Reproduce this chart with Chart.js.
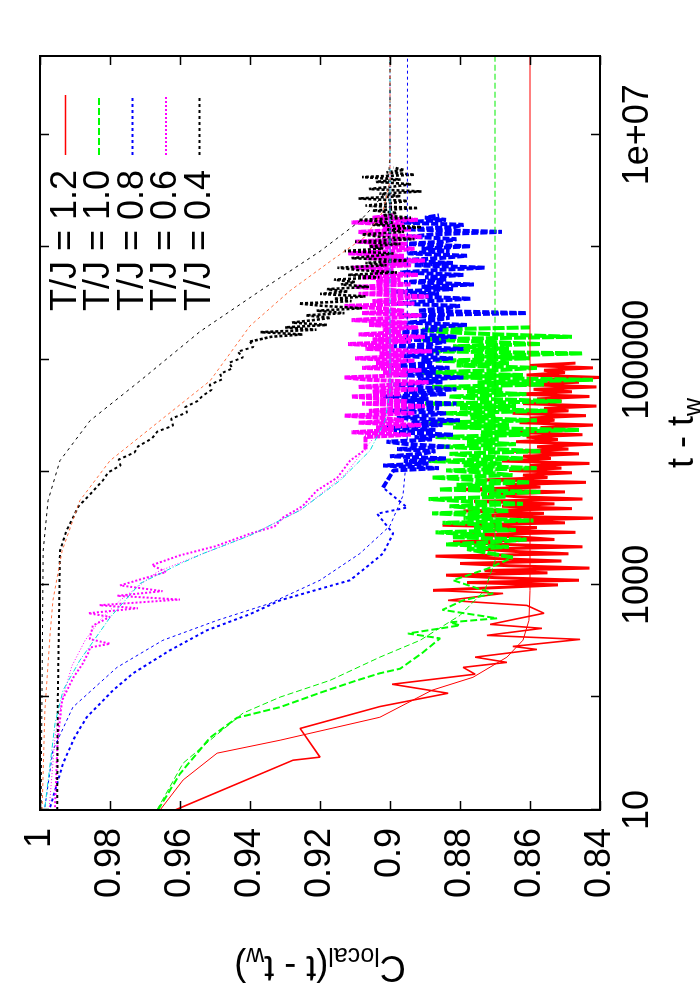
<!DOCTYPE html>
<html>
<head>
<meta charset="utf-8">
<script src="https://cdn.jsdelivr.net/npm/chart.js@4.4.0/dist/chart.umd.min.js"></script>
<style>
html, body { margin: 0; padding: 0; background: #fff; overflow: hidden; }
/* the plot is drawn landscape and turned a quarter turn to the left */
#wrap { position: absolute; left: 0; top: 0; width: 1000px; height: 700px;
  transform-origin: 0 0; transform: translate(0px, 1000px) rotate(-90deg); }
</style>
</head>
<body>
<div id="wrap"><canvas id="corr" width="1000" height="700"></canvas></div>
<script>
const fontFamily = '"Liberation Sans", Arial, Helvetica, sans-serif';

//axis ticks
const xTicks = [10, 100, 1000, 10000, 100000, 1000000, 10000000];
const xTickLabels = ['10', '', '1000', '', '100000', '', '1e+07'];
const yTicks = [0.84, 0.86, 0.88, 0.9, 0.92, 0.94, 0.96, 0.98, 1];
const yTickLabels = ['0.84', '0.86', '0.88', '0.9', '0.92', '0.94', '0.96', '0.98', '1'];

const seriesNames = ['T/J = 1.2', 'T/J = 1.0', 'T/J = 0.8', 'T/J = 0.6', 'T/J = 0.4'];

//sampling times of the long-time part (shared by all runs)
const tLate = [1000, 1050, 1100, 1160, 1220, 1280, 1340, 1410, 1480, 1550, 1630, 1710, 1800, 1890, 1980,
  2080, 2180, 2290, 2410, 2530, 2650, 2790, 2930, 3070, 3230, 3390, 3560, 3730, 3920, 4120, 4320, 4540, 4760,
  5000, 5250, 5520, 5790, 6080, 6390, 6700, 7040, 7390, 7760, 8150, 8560, 8990, 9440, 9910,
  10400, 10900, 11500, 12000, 12600, 13300, 13900, 14600, 15400, 16100, 16900, 17800, 18700, 19600,
  20600, 21600, 22700, 23800, 25000, 26300, 27600, 29000, 30400, 31900, 33500, 35200, 37000, 38800, 40800, 42800,
  44900, 47200, 49500,
  52000, 54600, 57400, 60200, 63200, 66400, 69700, 73200, 76900, 80700, 84800, 89000, 93400, 98100,
  103000, 108000, 114000, 119000, 125000, 132000, 138000, 145000, 152000, 160000, 168000, 176000, 185000, 194000,
  204000, 214000, 225000, 236000, 248000, 260000, 273000, 287000, 301000, 316000, 332000, 349000, 366000, 385000,
  404000, 424000, 445000, 467000, 491000,
  515000, 541000, 568000, 597000, 627000, 658000, 691000, 725000, 762000, 800000, 840000, 882000, 926000, 972000,
  1020000, 1070000, 1120000, 1180000, 1240000, 1300000, 1370000, 1440000, 1510000, 1580000, 1660000, 1750000,
  1830000, 1920000,
  2020000, 2120000, 2230000, 2340000, 2460000, 2580000, 2710000, 2840000, 2990000, 3130000, 3290000, 3460000,
  3630000, 3810000,
  4000000, 4200000, 4410000, 4630000, 4860000, 5100000];

//T/J = 1.2 measured
const tRed = [10, 27.7, 29.5, 53, 83, 109, 131, 161, 185, 205, 228, 267, 284, 328, 356, 411, 446, 560, 657, 729, 840, 894];
const cRed = [0.9614, 0.9277, 0.92, 0.9257, 0.9029, 0.8834, 0.8994, 0.8757, 0.8791, 0.8666, 0.8757, 0.858, 0.8649,
  0.8457, 0.8723, 0.8566, 0.8714, 0.856, 0.8609, 0.8834, 0.8677, 0.8877];
const cRedLate = [0.852, 0.878, 0.846, 0.870, 0.884, 0.855, 0.873, 0.843, 0.866, 0.880, 0.851, 0.869, 0.887, 0.849, 0.864,
  0.874, 0.845, 0.868, 0.882, 0.853, 0.862, 0.877, 0.847, 0.871, 0.858, 0.885, 0.850, 0.866, 0.842, 0.874, 0.856, 0.879, 0.848,
  0.868, 0.853, 0.876, 0.845, 0.864, 0.872, 0.850, 0.881, 0.857, 0.867, 0.844, 0.873, 0.855, 0.862, 0.848,
  0.866, 0.851, 0.860, 0.843, 0.868, 0.854, 0.862, 0.846, 0.865, 0.849, 0.858, 0.842, 0.864, 0.852,
  0.861, 0.845, 0.866, 0.850, 0.857, 0.842, 0.863, 0.853, 0.860, 0.844, 0.865, 0.849, 0.856, 0.841, 0.862, 0.851, 0.858,
  0.843, 0.864,
  0.848, 0.859, 0.841, 0.862, 0.846, 0.857, 0.840, 0.861, 0.850, 0.856, 0.842, 0.860, 0.847];

//T/J = 1.0 measured
const tGreen = [10, 21, 44, 66, 82, 110, 140, 164, 180, 251, 335, 370, 437, 465, 505, 600, 729, 840, 1100, 1400, 1750];
const cGreen = [0.9663, 0.96, 0.9514, 0.9437, 0.9314, 0.92, 0.91, 0.9029, 0.8971, 0.8906, 0.8857, 0.8949, 0.88, 0.8829,
  0.8694, 0.885, 0.8791, 0.8706, 0.882, 0.872, 0.8649];
const cGreenLate = [0.878, 0.866, 0.884, 0.870, 0.861, 0.882, 0.873, 0.887, 0.864, 0.876, 0.868, 0.885, 0.859, 0.879,
  0.871, 0.888, 0.866, 0.874,
  0.883, 0.862, 0.878, 0.889, 0.867, 0.874, 0.857, 0.886, 0.870, 0.881, 0.860, 0.876, 0.888, 0.865, 0.872,
  0.884, 0.858, 0.879, 0.868, 0.889, 0.862, 0.875, 0.883, 0.857, 0.871, 0.886, 0.864, 0.878, 0.869,
  0.887, 0.860, 0.874, 0.846, 0.882, 0.866, 0.889, 0.858, 0.877, 0.870, 0.885, 0.855, 0.880, 0.864, 0.890, 0.851, 0.873,
  0.883, 0.861,
  0.878, 0.868, 0.888, 0.856, 0.875, 0.842, 0.884, 0.862, 0.891, 0.870, 0.858, 0.881, 0.866, 0.887,
  0.860, 0.876, 0.845, 0.889, 0.866, 0.882, 0.857, 0.874, 0.891, 0.848, 0.869, 0.885, 0.891, 0.860];

//T/J = 0.8 measured
const tBlue = [10.6, 26, 45, 67, 116, 164, 262, 395, 550, 729, 1100, 1500, 1900, 2860, 4290, 4870, 7320];
const cBlue = [0.9971, 0.9934, 0.99, 0.9866, 0.9791, 0.9734, 0.9629, 0.9523, 0.94, 0.9314, 0.9114, 0.906, 0.902, 0.8991,
  0.9037, 0.8951, 0.902];
const cBlueLate = [0.899, 0.886, 0.902, 0.889, 0.896, 0.884, 0.900, 0.891, 0.887, 0.898, 0.883, 0.895, 0.901, 0.888,
  0.893, 0.882, 0.899, 0.887, 0.903, 0.885, 0.894, 0.880, 0.898, 0.890, 0.884, 0.900, 0.886, 0.895, 0.881, 0.897, 0.889,
  0.902, 0.884,
  0.896, 0.881, 0.893, 0.899, 0.885, 0.892, 0.879, 0.898, 0.887, 0.894, 0.883, 0.900, 0.888, 0.891,
  0.882, 0.897, 0.886, 0.893, 0.879, 0.899, 0.888, 0.884, 0.896, 0.881, 0.892, 0.898, 0.885, 0.890,
  0.878, 0.895, 0.887, 0.883, 0.897, 0.861, 0.892, 0.885, 0.880, 0.898, 0.889, 0.877, 0.894, 0.886, 0.899, 0.882, 0.891,
  0.876, 0.896,
  0.884, 0.890, 0.879, 0.897, 0.887, 0.873, 0.893, 0.882, 0.898, 0.886, 0.878, 0.895, 0.883, 0.891,
  0.877, 0.896, 0.885, 0.881, 0.894, 0.888, 0.868, 0.895, 0.882, 0.879, 0.897, 0.884, 0.890, 0.886];

//T/J = 0.6 measured
const tMag = [10.6, 40, 94, 150, 202, 250, 278, 300, 330, 435, 520, 560, 620, 660, 741, 800, 880, 990, 1150, 1300, 1500,
  1830, 2200, 2850, 3300, 3970, 5000, 6880, 9000, 12700, 16000];
const cMag = [0.9957, 0.995, 0.9937, 0.9905, 0.9877, 0.9862, 0.9857, 0.98, 0.9858, 0.9849, 0.98, 0.9862, 0.972, 0.983,
  0.96, 0.978, 0.965, 0.9771, 0.97, 0.964, 0.968, 0.96, 0.95, 0.94, 0.933, 0.9306, 0.925, 0.9209, 0.915, 0.9114, 0.907];
const cMagLate = [0.907, 0.894, 0.911, 0.899, 0.904, 0.891, 0.909, 0.896, 0.902, 0.913, 0.893, 0.906, 0.898, 0.890,
  0.908, 0.895, 0.903, 0.911, 0.897,
  0.905, 0.892, 0.909, 0.899, 0.889, 0.906, 0.913, 0.895, 0.902, 0.891, 0.908, 0.897, 0.904, 0.893,
  0.910, 0.896, 0.903, 0.888, 0.907, 0.899, 0.912, 0.894, 0.905, 0.890, 0.909, 0.897, 0.902, 0.892,
  0.906, 0.895, 0.911, 0.899, 0.891, 0.908, 0.896, 0.903, 0.913, 0.893, 0.905, 0.898, 0.889, 0.909, 0.895, 0.902, 0.910,
  0.894, 0.904,
  0.897, 0.908, 0.892, 0.905, 0.899, 0.911, 0.894, 0.903, 0.890, 0.907, 0.896, 0.912, 0.899, 0.893,
  0.906, 0.895, 0.910, 0.898, 0.891, 0.904, 0.909, 0.894, 0.902, 0.896, 0.911, 0.892, 0.905, 0.899];

//T/J = 0.4 measured
const tBlack = [10, 100, 700, 2000, 3000, 4000, 5000, 6000, 7000, 8500, 10000, 11500, 13000, 15000, 17000, 20000,
  23000, 26000, 30000, 34000, 38000, 43000, 48000, 54000, 60000, 67000, 75000, 84000, 94000, 105000, 118000, 130000,
  145000];
const cBlack = [0.9951, 0.9949, 0.9945, 0.9943, 0.9925, 0.9905, 0.989, 0.9865, 0.9845, 0.982, 0.9805, 0.977, 0.9775,
  0.973, 0.972, 0.968, 0.9665, 0.962, 0.9625, 0.958, 0.9585, 0.955, 0.9535, 0.951, 0.9515, 0.948, 0.9485, 0.945, 0.946,
  0.942, 0.9435, 0.939, 0.94];
const cBlackLate = [0.934, 0.925, 0.937, 0.921, 0.930, 0.918, 0.928, 0.922, 0.917,
  0.924, 0.913, 0.921, 0.908, 0.919, 0.926, 0.911, 0.916, 0.907, 0.920, 0.912, 0.918, 0.906, 0.914, 0.910,
  0.916, 0.903, 0.912, 0.898, 0.909, 0.915, 0.901, 0.907, 0.895, 0.911, 0.904, 0.899, 0.913, 0.902,
  0.906, 0.897, 0.910, 0.893, 0.903, 0.908, 0.896, 0.901, 0.891, 0.905, 0.899, 0.909, 0.894, 0.902,
  0.898, 0.905, 0.892, 0.907, 0.900, 0.895, 0.909, 0.897, 0.903, 0.891, 0.906, 0.899, 0.894, 0.904, 0.897, 0.908,
  0.893, 0.901, 0.896, 0.899];

//fitted curves
const tFitRed = [10, 18.5, 32, 41.7, 66.7, 116, 151, 228, 323, 484, 894, 50000000];
const cFitRed = [0.9657, 0.9591, 0.9494, 0.9314, 0.9029, 0.888, 0.8763, 0.8666, 0.862, 0.8603, 0.86, 0.86];
const tFitGreen = [10, 26.1, 41.7, 72.6, 100.7, 142, 228, 322, 536, 894, 1650, 50000000];
const cFitGreen = [0.9666, 0.9591, 0.9514, 0.942, 0.9314, 0.9171, 0.9029, 0.8914, 0.88, 0.8729, 0.87, 0.87];
const tFitBlue = [10.6, 34, 82, 185, 322, 484, 685, 1100, 1900, 3350, 6200, 15500, 50000000];
const cFitBlue = [0.9986, 0.9963, 0.9906, 0.978, 0.9649, 0.9494, 0.9343, 0.92, 0.9086, 0.9, 0.8963, 0.8951, 0.895];
const tFitMag = [10, 45, 94, 190, 322, 484, 729, 1300, 1900, 2750, 4600, 9500, 21000, 40000, 65000, 50000000];
const cFitMag = [0.9974, 0.9957, 0.9937, 0.9909, 0.9871, 0.9829, 0.9771, 0.9666, 0.9534, 0.94, 0.9257, 0.9129,
  0.9043, 0.9006, 0.9, 0.9];
const tFitCyan = [10.6, 59, 116, 214, 513, 1030, 1540, 1900, 2750, 4600, 8450, 15600, 28800, 53000, 50000000];
const cFitCyan = [0.9986, 0.9957, 0.9934, 0.9886, 0.98, 0.9714, 0.96, 0.9534, 0.94, 0.9257, 0.9143, 0.9057, 0.9014,
  0.9, 0.9];
const tFitOrange = [10, 77, 372, 729, 2000, 5620, 12700, 28800, 65100, 200000, 410000, 780000, 1240000, 2080000,
  3870000, 50000000];
const cFitOrange = [0.9994, 0.9986, 0.9971, 0.9963, 0.9937, 0.9886, 0.98, 0.9657, 0.9514, 0.94, 0.9286, 0.9163, 0.9071,
  0.902, 0.9, 0.9];
const tFitBlack = [10, 2000, 5620, 12700, 28800, 65100, 178000, 410000, 920000, 1710000, 2800000, 4700000, 7000000,
  50000000];
const cFitBlack = [0.9997, 0.9991, 0.9977, 0.9943, 0.9857, 0.9714, 0.9543, 0.9371, 0.92, 0.9086, 0.9023, 0.9003, 0.9,
  0.9];

function pts(ts, cs) {
  return ts.map((t, i) => ({ x: t, y: cs[i] }));
}

//long-time values start at tStart on the shared grid, joined to the last early point
function latePts(ts, cs, tStart, csLate) {
  const i0 = tLate.indexOf(tStart);
  const first = { x: ts[ts.length - 1], y: cs[cs.length - 1] };
  return [first].concat(csLate.map((c, i) => ({ x: tLate[i0 + i], y: c })));
}

function line(label, data, color, width, dash, order) {
  return {
    label: label,
    data: data,
    borderColor: color,
    borderWidth: width,
    borderDash: dash,
    borderJoinStyle: 'bevel',
    pointRadius: 0,
    fill: false,
    tension: 0,
    order: order
  };
}

const datasets = [
  line(seriesNames[0], pts(tRed, cRed), '#ff0000', 1.6, [], 10),
  line(seriesNames[0] + ' late', latePts(tRed, cRed, 1000, cRedLate), '#ff0000', 3, [], 10),
  line(seriesNames[1], pts(tGreen, cGreen), '#00ff00', 2, [7, 3], 9),
  line(seriesNames[1] + ' late', latePts(tGreen, cGreen, 2080, cGreenLate), '#00ff00', 4, [12, 2], 9),
  line(seriesNames[2], pts(tBlue, cBlue), '#0000ff', 2, [3, 3], 8),
  line(seriesNames[2] + ' late', latePts(tBlue, cBlue, 10400, cBlueLate), '#0000ff', 4, [7, 2], 8),
  line(seriesNames[3], pts(tMag, cMag), '#ff00ff', 2, [2, 2], 7),
  line(seriesNames[3] + ' late', latePts(tMag, cMag, 20600, cMagLate), '#ff00ff', 4, [6, 1], 7),
  line(seriesNames[4], pts(tBlack, cBlack), '#000000', 2, [3, 3], 6),
  line(seriesNames[4] + ' late', latePts(tBlack, cBlack, 160000, cBlackLate), '#000000', 2.6, [3, 2], 6),
  line('fit 1.2', pts(tFitRed, cFitRed), '#ff0000', 1, [], 5),
  line('fit 1.0', pts(tFitGreen, cFitGreen), '#00ee00', 1, [6, 3], 4),
  line('fit 0.8', pts(tFitBlue, cFitBlue), '#0000ff', 1, [3, 3], 3),
  line('fit 0.6a', pts(tFitMag, cFitMag), '#ff00ff', 1, [1, 2], 2),
  line('fit 0.6b', pts(tFitCyan, cFitCyan), '#00dddd', 1, [5, 2, 1, 2], 1),
  line('fit 0.4a', pts(tFitOrange, cFitOrange), '#ff7040', 1, [3, 3], 0),
  line('fit 0.4b', pts(tFitBlack, cFitBlack), '#000000', 1, [3, 4], 0)
];

//legend entries (data series only)
const legendStyles = [
  { color: '#ff0000', width: 1.6, dash: [] },
  { color: '#00ff00', width: 2, dash: [7, 3] },
  { color: '#0000ff', width: 2, dash: [3, 3] },
  { color: '#ff00ff', width: 2, dash: [2, 2] },
  { color: '#000000', width: 2, dash: [3, 3] }
];

//frame with inward ticks on all four sides
const framePlugin = {
  id: 'frame',
  afterDatasetsDraw(chart) {
    const ctx = chart.ctx;
    const a = chart.chartArea;
    const xs = chart.scales.x, ys = chart.scales.y;
    ctx.save();
    ctx.strokeStyle = '#000';
    ctx.lineWidth = 1.5;
    ctx.setLineDash([]);
    ctx.beginPath();
    xTicks.forEach(v => {
      const px = Math.round(xs.getPixelForValue(v)) + 0.5;
      ctx.moveTo(px, a.bottom); ctx.lineTo(px, a.bottom - 9);
      ctx.moveTo(px, a.top); ctx.lineTo(px, a.top + 9);
    });
    yTicks.forEach(v => {
      const py = Math.round(ys.getPixelForValue(v)) + 0.5;
      ctx.moveTo(a.left, py); ctx.lineTo(a.left + 9, py);
      ctx.moveTo(a.right, py); ctx.lineTo(a.right - 9, py);
    });
    ctx.stroke();
    ctx.lineWidth = 2;
    ctx.strokeRect(a.left, a.top, a.right - a.left, a.bottom - a.top);
    ctx.restore();
  }
};

//axis titles with subscripts, and the key
const textPlugin = {
  id: 'texts',
  afterDraw(chart) {
    const ctx = chart.ctx;
    const a = chart.chartArea;
    const big = '36px ' + fontFamily;
    const small = '25px ' + fontFamily;
    ctx.save();
    ctx.fillStyle = '#000';
    ctx.textBaseline = 'alphabetic';

    //x title: t - t_w
    ctx.font = big;
    const w1 = ctx.measureText('t - t').width;
    ctx.font = small;
    const w2 = ctx.measureText('w').width;
    let x0 = (a.left + a.right) / 2 - (w1 + w2) / 2;
    ctx.font = big;
    ctx.textAlign = 'left';
    ctx.fillText('t - t', x0, 693);
    ctx.font = small;
    ctx.fillText('w', x0 + w1, 701);

    //y title: C_local(t - t_w), read upwards
    const parts = [['C', big, 0], ['local', small, 8], ['(t - t', big, 0], ['w', small, 8], [')', big, 0]];
    let total = 0;
    parts.forEach(p => { ctx.font = p[1]; total += ctx.measureText(p[0]).width; });
    ctx.translate(44, (a.top + a.bottom) / 2);
    ctx.rotate(-Math.PI / 2);
    let pos = -total / 2;
    parts.forEach(p => {
      ctx.font = p[1];
      ctx.fillText(p[0], pos, p[2]);
      pos += ctx.measureText(p[0]).width;
    });
    ctx.restore();

    //key at the upper right
    ctx.save();
    ctx.font = big;
    ctx.textAlign = 'right';
    ctx.textBaseline = 'middle';
    seriesNames.forEach((name, i) => {
      const y = 65 + i * 33.5;
      ctx.fillStyle = '#000';
      ctx.fillText(name, 830, y + 1);
      const s = legendStyles[i];
      ctx.strokeStyle = s.color;
      ctx.lineWidth = s.width;
      ctx.setLineDash(s.dash);
      ctx.beginPath();
      ctx.moveTo(845, y + 0.5);
      ctx.lineTo(905, y + 0.5);
      ctx.stroke();
    });
    ctx.restore();
  }
};

const corrCanvas = document.getElementById('corr');
const corrChart = new Chart(corrCanvas, {
  type: 'line',
  data: { datasets: datasets },
  options: {
    responsive: false,
    animation: false,
    events: [],
    layout: { padding: { top: 40, right: 56, left: 0, bottom: 0 } },
    plugins: {
      legend: { display: false },
      tooltip: { enabled: false }
    },
    scales: {
      x: {
        type: 'logarithmic',
        min: 10,
        max: 50000000,
        grid: { display: false, drawTicks: false },
        border: { display: false },
        afterBuildTicks: scale => { scale.ticks = xTicks.map(v => ({ value: v })); },
        afterFit: scale => { scale.height = 100; },
        ticks: {
          autoSkip: false,
          maxRotation: 0,
          padding: 16,
          color: '#000',
          font: { family: fontFamily, size: 36 },
          callback: (value, index) => xTickLabels[index]
        }
      },
      y: {
        type: 'linear',
        min: 0.84,
        max: 1,
        grid: { display: false, drawTicks: false },
        border: { display: false },
        afterBuildTicks: scale => { scale.ticks = yTicks.map(v => ({ value: v })); },
        afterFit: scale => { scale.width = 190; },
        ticks: {
          autoSkip: false,
          padding: 18,
          color: '#000',
          font: { family: fontFamily, size: 36 },
          callback: (value, index) => yTickLabels[index]
        }
      }
    }
  },
  plugins: [framePlugin, textPlugin]
});
</script>
</body>
</html>
